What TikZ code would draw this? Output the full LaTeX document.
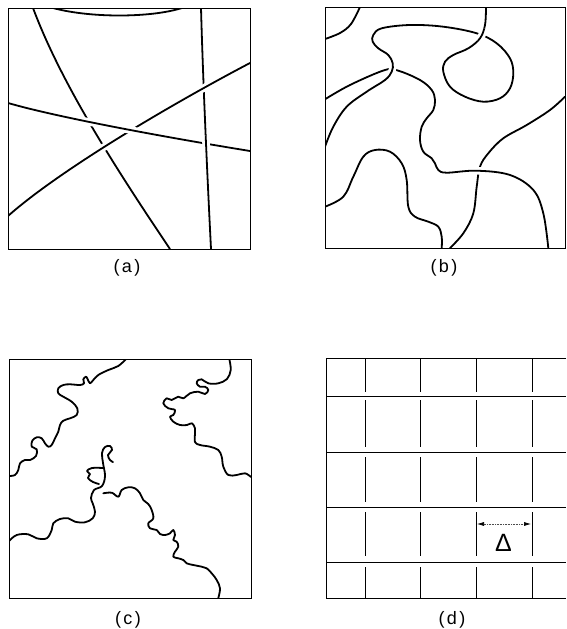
\documentclass[tikz,border=0pt]{standalone}
\usepackage{fontspec}
\newfontfamily\labfont{Liberation Sans}
\usetikzlibrary{arrows.meta}
\tikzset{
  curve/.style={line width=1.8pt, line cap=round, line join=round},
  over/.style={preaction={draw=white, line width=7.5pt, line cap=butt}},
  frame/.style={line width=0.8pt},
  gridline/.style={line width=1pt},
  lbl/.style={font=\labfont\fontsize{18}{20}\selectfont, inner sep=0pt},
  sm/.style={smooth, tension=0.6}
}
% panel (a)
\newcommand\PAa{(33,8) .. controls (60,80) and (110,160) .. (170,249)}
\newcommand\PAb{(8,216) .. controls (60,170) and (170,105) .. (250,63)}
\newcommand\PAc{(8,103) .. controls (60,118) and (170,138) .. (250,151)}
\newcommand\PAd{(201,8) .. controls (203,80) and (207,170) .. (211,249)}
\newcommand\PAe{(53,8) .. controls (90,18) and (150,18) .. (182,8)}
% panel (b)
\newcommand\PBa{plot[sm] coordinates {(360,7) (351,24) (340,33) (325,39)}}
\newcommand\PBb{plot[sm] coordinates {(325,99.3) (350,85) (385,70) (398.3,70.7) (420,80) (431.7,90) (435,100) (433.3,110) (426.7,118.3) (421.7,126.7) (420,140) (423.3,151.7) (431.7,158.3) (435,163.3) (438.3,170) (446.7,172.7) (476.7,170.7) (510,175) (533.3,190) (543.3,213.3) (548.3,248)}}
\newcommand\PBc{plot[sm] coordinates {(325,206.7) (343.3,196.7) (353.3,176.7) (363.3,156.7) (375,150) (390,151.7) (401.7,163.3) (406.7,180) (408.3,206.7) (415,216.7) (428.3,221.7) (438.3,226.7) (441.7,236.7) (441.7,248)}}
\newcommand\PBd{plot[sm] coordinates {(565,96.7) (550,110) (526.7,125) (503.3,138.3) (488.3,153.3) (480,166.7) (476.7,186.7) (473.3,213.3) (463.3,233.3) (450,248)}}
\newcommand\PBe{plot[sm] coordinates {(325,146.7) (333.3,126.7) (346.7,106.7) (366.7,91.7) (385,80) (391.7,71.7) (392.7,63.3) (388.3,55) (378.3,48.3) (372.7,41.7) (373.3,35) (381.7,28.3) (410,25) (443.3,26.7) (476.7,33.3) (496.7,43.3) (510,58.3) (513.3,73.3) (510,88.3) (500,98.3) (483.3,101.7) (465,96.7) (450,86.7) (443.3,71.7) (445,61.7) (453.3,55) (468.3,48.3) (480,38.3) (485,25) (486,7.3)}}
\newcommand\PBf{plot[sm] coordinates {(450,86.7) (443.3,71.7) (445,61.7) (453.3,55) (468.3,48.3) (480,38.3) (485,25) (486,7.3)}}
% panel (c)
\newcommand\PCa{plot[sm] coordinates {(126,359) (118.3,366) (108.3,370) (98.3,375) (93.3,380) (90,383.3) (87.7,379.3) (86,376.7) (83.3,379.3) (84,383.3) (80,385) (70,384.3) (63.3,385) (58.3,388.3) (58.3,393.3) (63.3,396.7) (71.7,401.7) (77.3,408.3) (76.7,415) (70,418.3) (63.3,420.7) (60,425) (58.3,431.7) (55,438.3) (51.7,445) (48.3,446.7) (45,443.3) (41.7,438.3) (36.7,437.3) (32.3,440.7) (31.7,446.7) (36.7,449.3) (36,456) (30,460) (25,460) (20,463.3) (18.3,470) (15,475) (9,476)}}
\newcommand\PCb{plot[sm] coordinates {(229.3,359) (230.7,370) (227,379) (218.3,383.3) (208.3,383.3) (201.7,379.3) (198.3,380) (196.7,383.3) (200,386.7) (205,386.7) (208.3,390) (205,394) (198.3,391.7) (190,393.3) (183.3,398.3) (178.3,396.7) (171.7,400) (166.7,398.3) (163.3,403.3) (168.3,408.3) (175,410) (173.3,415) (170,416.7) (173.3,421.7) (180,425) (187,425) (192,423.3) (195,428.3) (195,433.3) (195,442) (200,445) (210,446.7) (218.3,450) (221.7,456.7) (223.3,466.7) (228.3,475) (236.7,475) (245,473.3) (251,477)}}
\newcommand\PCc{plot[sm] coordinates {(9,541) (16.7,535) (28.3,534.3) (36.7,538.3) (46.7,538.3) (51.7,530) (53.3,523.3) (60,519) (68.3,518.3) (75,521.7) (85,522.3) (92.7,518.3) (95,511.7) (92.7,503.3) (91,498) (94,490) (102,486) (105,476) (103,463) (102,453) (105,447) (110,446) (112,450) (108,455) (110,460) (113,462)}}
\newcommand\PCd{plot[sm] coordinates {(103,468) (92,468) (87,471) (90,474) (88,478) (93,482) (99,484)}}
\newcommand\PCe{plot[sm] coordinates {(103.3,493.3) (111.7,492.7) (118.3,496.7) (121.7,490) (128.3,487.3) (135,488.3) (140,493.3) (143.3,500) (148.3,504) (151.7,510) (153.3,518.3) (148.3,523.3) (150,528.3) (156.7,530) (160,534) (165,535) (170,533.3) (173.3,530) (175,535) (173.3,540) (176.7,541.7) (178.3,546.7) (175,551.7) (173.3,556.7) (178.3,558.3) (183.3,560) (186.7,563.3) (193.3,565) (201.7,566.7) (206.7,568.3) (211.7,573.3) (216.7,580) (220,588.3) (218.3,598)}}
\begin{document}
\begin{tikzpicture}[x=1pt,y=-1pt]
\useasboundingbox[fill=white] (0,0) rectangle (566,629);
% ---------- (a)
\begin{scope}
  \clip (8,8) rectangle (250,249);
  \draw[curve] \PAe;
  \draw[curve,over] \PAa;
  \draw[curve,over] \PAd;
  \draw[curve,over] \PAb;
  \draw[curve,over] \PAc;
  \begin{scope}
    \clip (207,143) circle (8);
    \draw[curve,over] \PAd;
  \end{scope}
\end{scope}
\draw[frame] (8,8) rectangle (250,249);
\node[lbl] (la) at (127,268) {(\kern2.5pt a\kern2.5pt)};
% ---------- (b)
\begin{scope}
  \clip (325,7) rectangle (565,248);
  \draw[curve] \PBa;
  \draw[curve,over] \PBc;
  \draw[curve,over] \PBd;
  \draw[curve,over] \PBb;
  \draw[curve,over] \PBe;
  \begin{scope}
    \clip (481.5,35) circle (7);
    \draw[curve,over] \PBf;
  \end{scope}
\end{scope}
\draw[frame] (325,7) rectangle (565,248);
\node[lbl] (lb) at (444,268) {(\kern2.5pt b\kern2.5pt)};
% ---------- (c)
\begin{scope}
  \clip (9,359) rectangle (251,598);
  \draw[curve] \PCa;
  \draw[curve] \PCb;
  \draw[curve] \PCc;
  \draw[curve] \PCd;
  \draw[curve] \PCe;
\end{scope}
\draw[frame] (9,359) rectangle (251,598);
\node[lbl] (lc) at (128,620) {(\kern2.5pt c\kern2.5pt)};
% ---------- (d)
\draw[frame] (566,358) -- (326,358) -- (326,598) -- (566,598);
\foreach \y in {396,452,507,562}
  \draw[gridline] (326,\y) -- (566,\y);
\foreach \x in {365,420,476,532}{
  \draw[gridline] (\x,358) -- (\x,392);
  \draw[gridline] (\x,400) -- (\x,447);
  \draw[gridline] (\x,457) -- (\x,502);
  \draw[gridline] (\x,512) -- (\x,556);
  \draw[gridline] (\x,567) -- (\x,598);
}
\coordinate (arl) at (477,524);
\coordinate (arr) at (531,524);
\draw[densely dotted, line width=0.6pt, black!70,
  {Latex[length=7pt,width=4pt,black]}-{Latex[length=7pt,width=4pt,black]}] (arl) -- (arr);
\node[font=\labfont\fontsize{25}{28}\selectfont, inner sep=0pt] (delta) at (503.5,543) {Δ};
\node[lbl] (ld) at (452,620) {(\kern2.5pt d\kern2.5pt)};
\end{tikzpicture}
\end{document}
